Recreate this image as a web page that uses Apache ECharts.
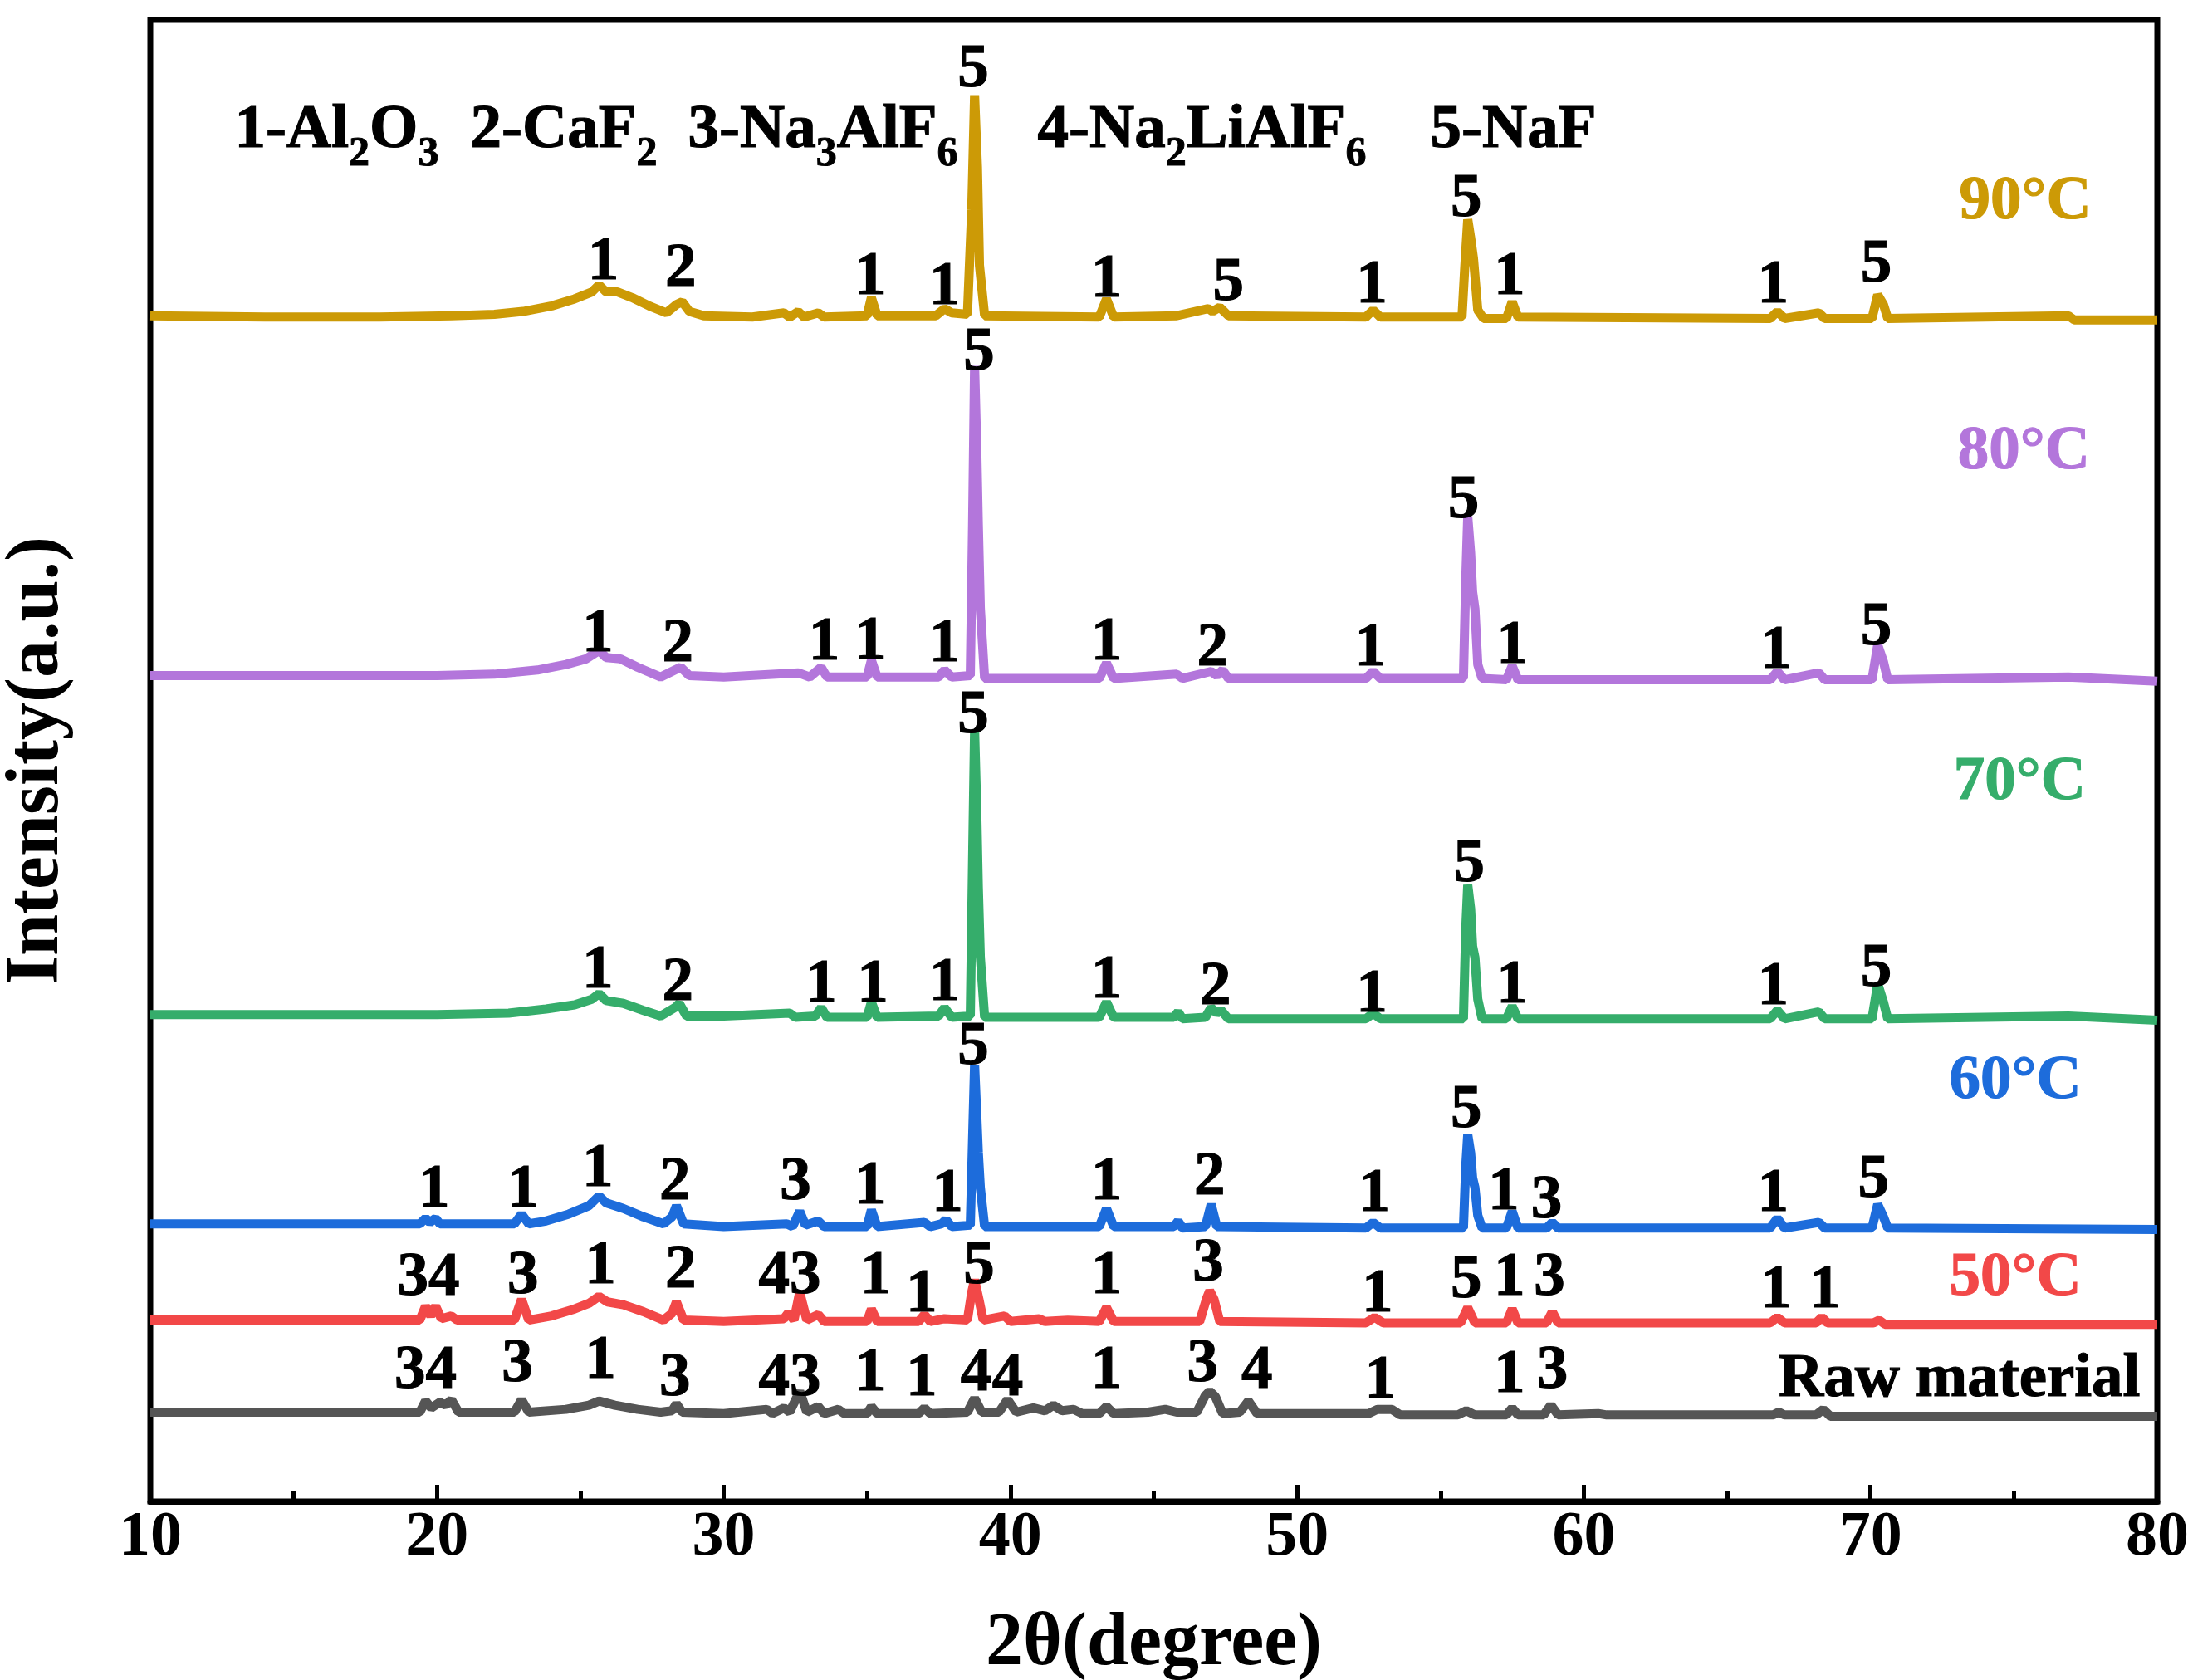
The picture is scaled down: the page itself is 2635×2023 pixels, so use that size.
<!DOCTYPE html>
<html>
<head>
<meta charset="utf-8">
<script src="https://cdn.jsdelivr.net/npm/echarts@6/dist/echarts.min.js"></script>
<style>
html, body {margin: 0; padding: 0; background: #fff;}
#main {width: 2635px; height: 2023px;}
</style>
</head>
<body>
<div id="main"></div>
<script>
// XRD patterns, stacked (offset intensity, arbitrary units)
const raw = [[10,64],[19.4,64],[19.6,72],[19.8,67],[20.1,71],[20.3,69],[20.5,73],[20.75,64],[22.7,64],[22.95,73],[23.2,64],
  [24.5,66],[25.3,69],[25.65,72],[26.2,69],[27,66],[27.8,64],[28.2,65],[28.35,70],[28.55,64],[30,63],
  [31.5,66],[31.7,63],[32.1,67],[32.3,64],[32.65,79],[32.9,64],[33.3,68],[33.5,63],[34,66],[34.2,63],
  [35,63],[35.15,68],[35.35,63],[36.8,63],[37,67],[37.2,63],[38.5,64],[38.75,74],[39,64],[39.6,64],[39.9,73],[40.2,64],
  [40.8,67],[41.2,65],[41.5,69],[41.8,65],[42.2,66],[42.5,63],[43.1,63],[43.35,68],[43.6,63],[44.8,64],[45.4,66],[45.8,64],
  [46.5,64],[46.8,76],[46.95,79],[47.15,75],[47.4,63],[48,64],[48.3,72],[48.6,63],[52.5,63],[52.8,66],[53.3,66],[53.6,62],
  [55.6,62],[55.9,65],[56.2,62],[57.3,62],[57.5,67],[57.7,62],[58.6,62],[58.85,69],[59.1,62],[60.5,63],[60.8,62],
  [66.6,62],[66.8,64],[67,62],[68.1,62],[68.35,66],[68.6,61],[80,61]];

const t50 = [[10,130],[19.4,130],[19.6,140],[19.78,133],[19.95,140],[20.15,131],[20.5,133],[20.7,130],[22.7,130],[22.95,145],[23.2,130],
  [24,133],[24.8,138],[25.3,142],[25.65,147],[25.95,143],[26.5,141],[27.2,136],[27.9,130],[28.2,135],[28.35,143],[28.6,130],[30,129],
  [32.1,131],[32.25,135],[32.45,130],[32.65,150],[32.9,130],[33.3,134],[33.5,129],[35,129],[35.15,138],[35.35,129],
  [36.8,129],[37,134],[37.2,129],[37.7,131],[38.5,130],[38.65,150],[38.75,159],[38.9,145],[39.05,130],
  [39.8,133],[40,129],[41,131],[41.2,129],[42,130],[43.1,129],[43.35,139],[43.6,129],[44,129],
  [46.6,129],[46.85,146],[46.95,151],[47.1,145],[47.3,129],[52.4,128],[52.7,132],[53,128],
  [55.7,128],[55.95,139],[56.2,128],[57.3,128],[57.5,138],[57.7,128],[58.7,128],[58.9,136],[59.1,128],
  [66.5,128],[66.75,132],[67,128],[68.1,128],[68.3,132],[68.5,128],[70.1,128],[70.3,130],[70.5,127],[80,127]];

const t60 = [[10,199],[19.4,199],[19.6,203],[19.75,200],[19.95,203],[20.1,199],[22.7,199],[22.95,206],[23.2,199],
  [23.8,201],[24.6,206],[25.3,212],[25.65,219],[25.9,214],[26.5,210],[27.2,204],[27.9,199],[28.2,204],[28.35,212],[28.6,199],[30,197],
  [32.2,199],[32.4,197],[32.65,208],[32.85,198],[33.3,201],[33.5,197],[35,197],[35.15,209],[35.35,197],
  [37,200],[37.2,197],[37.6,199],[37.75,202],[37.95,197],[38.6,198],[38.68,260],[38.75,313],[38.82,280],[38.88,250],[38.95,225],[39.1,197],
  [43.1,197],[43.35,210],[43.6,197],[45.7,197],[45.85,201],[46,196],[46.8,197],[47,213],[47.2,197],
  [52.4,196],[52.65,200],[52.9,196],[55.8,196],[55.88,240],[55.95,263],[56.05,250],[56.12,232],[56.2,225],[56.3,205],[56.45,196],
  [57.3,196],[57.5,208],[57.7,196],[58.7,196],[58.9,200],[59.1,196],[66.5,196],[66.75,203],[67,196],[68.2,200],[68.4,196],
  [70.05,196],[70.25,213],[70.45,204],[70.6,196],[80,195]];

const t70 = [[10,349],[20,349],[22.5,350],[23.8,353],[24.8,356],[25.4,360],[25.65,364],[25.9,359],[26.5,357],[27.2,352],[27.8,348],
  [28.3,354],[28.45,357],[28.7,348],[30,348],[32.3,350],[32.5,347],[33.2,348],[33.4,354],[33.6,347],[35,347],[35.15,358],[35.35,347],
  [37.5,348],[37.7,354],[37.95,347],[38.6,348],[38.68,460],[38.75,553],[38.82,500],[38.88,440],[38.95,390],[39.1,347],
  [43.1,347],[43.35,358],[43.6,347],[45.7,347],[45.85,351],[46,346],[46.8,347],[47,354],[47.2,350],[47.35,352],[47.6,346],
  [52.4,346],[52.65,350],[52.9,346],[55.8,346],[55.88,410],[55.95,442],[56.05,425],[56.12,398],[56.2,390],[56.3,360],[56.45,346],
  [57.3,346],[57.5,355],[57.7,346],[66.5,346],[66.75,352],[67,346],[68.2,351],[68.4,346],
  [70.05,346],[70.25,371],[70.45,358],[70.6,346],[76.9,348],[80,345]];

const t80 = [[10,592],[20,592],[22,593],[23.5,596],[24.5,600],[25.2,604],[25.65,610],[25.9,605],[26.4,604],[27,598],[27.8,591],
  [28.3,596],[28.5,598],[28.8,592],[30,591],[32.6,594],[33,591],[33.4,598],[33.6,591],[35,591],[35.15,603],[35.35,591],
  [37.5,591],[37.7,596],[37.95,591],[38.6,592],[38.68,700],[38.75,814],[38.82,760],[38.88,700],[38.95,640],[39.1,590],
  [43.1,590],[43.35,601],[43.6,590],[45.8,593],[46,590],[47,595],[47.2,592],[47.4,596],[47.6,590],[52.4,590],[52.65,595],[52.9,590],
  [55.8,590],[55.88,660],[55.95,706],[56.05,680],[56.12,652],[56.2,640],[56.3,600],[56.45,590],
  [57.3,589],[57.5,599],[57.7,589],[66.5,589],[66.75,595],[67,589],[68.2,594],[68.4,589],
  [70.05,589],[70.25,614],[70.45,602],[70.6,589],[76.9,591],[80,588]];

const t90 = [[10,850],[14,849],[18,849],[20.5,850],[22,851],[23,853],[24,857],[24.8,862],[25.4,867],[25.65,872],[25.9,867],[26.3,867],
  [26.8,863],[27.4,857],[28,852],[28.35,858],[28.55,860],[28.8,853],[29.3,850],[31,849],[32.1,852],[32.3,849],[32.6,853],[32.8,849],
  [33.3,852],[33.5,849],[35,850],[35.15,863],[35.35,850],[37.4,850],[37.7,855],[37.95,852],[38.5,851],
  [38.65,926],[38.75,1008],[38.85,956],[38.92,886],[39.1,850],[43.1,849],[43.35,862],[43.6,849],[45.8,850],
  [46.9,855],[47.05,853],[47.3,856],[47.6,850],[52.4,849],[52.65,854],[52.9,849],
  [55.75,849],[55.85,886],[55.95,919],[56.05,906],[56.15,891],[56.3,854],[56.5,848],[57.3,848],[57.5,860],[57.7,849],
  [66.5,848],[66.75,853],[67,848],[68.2,852],[68.4,848],[70.05,848],[70.25,865],[70.45,858],[70.6,848],[76.9,850],[77.1,847],[80,847]];

// peak assignments: [2θ, intensity, phase number]
const peaksRaw = [[19.6,96,'34'],[22.8,101,'3'],[25.7,103,'1'],[28.3,91,'3'],[32.3,91,'43'],[35.1,94,'1'],[36.9,91,'1'],
  [38.8,94,'4'],[39.9,91,'4'],[43.35,96,'1'],[46.7,101,'3'],[48.6,96,'4'],[52.9,89,'1'],[57.4,93,'1'],[58.9,96,'3']];
const peaks50 = [[19.7,163,'34'],[23.0,164,'3'],[25.7,171,'1'],[28.5,168,'2'],[32.3,164,'43'],[35.3,164,'1'],[36.9,151,'1'],
  [38.9,171,'5'],[43.35,164,'1'],[46.9,173,'3'],[52.8,151,'1'],[55.9,161,'5'],[57.4,163,'1'],[58.8,163,'3'],[66.7,154,'1'],[68.4,154,'1']];
const peaks60 = [[19.9,226,'1'],[23.0,226,'1'],[25.6,241,'1'],[28.3,231,'2'],[32.5,231,'3'],[35.1,228,'1'],[37.8,223,'1'],
  [38.7,328,'5'],[43.35,231,'1'],[46.95,235,'2'],[52.7,223,'1'],[55.9,283,'5'],[57.2,224,'1'],[58.7,218,'3'],[66.6,223,'1'],[70.1,233,'5']];
const peaks70 = [[25.6,383,'1'],[28.4,374,'2'],[33.4,373,'1'],[35.2,373,'1'],[37.7,374,'1'],[38.7,566,'5'],[43.35,376,'1'],
  [47.15,371,'2'],[52.6,366,'1'],[56.0,459,'5'],[57.5,372,'1'],[66.6,371,'1'],[70.2,384,'5']];
const peaks80 = [[25.6,624,'1'],[28.4,617,'2'],[33.5,618,'1'],[35.1,619,'1'],[37.7,617,'1'],[38.9,826,'5'],[43.35,618,'1'],
  [47.05,614,'2'],[52.55,614,'1'],[55.8,720,'5'],[57.5,616,'1'],[66.7,612,'1'],[70.2,629,'5']];
const peaks90 = [[25.8,891,'1'],[28.5,886,'2'],[35.1,880,'1'],[37.7,873,'1'],[38.7,1029,'5'],[43.35,878,'1'],[47.6,876,'5'],
  [52.6,874,'1'],[55.9,936,'5'],[57.4,880,'1'],[66.6,874,'1'],[70.2,889,'5']];

const sampleNames = ['Raw material', '50°C', '60°C', '70°C', '80°C', '90°C'];
const sampleColors = ['#555555', '#F24848', '#1D6CDB', '#35AD6B', '#B376DB', '#CC9A06'];
const sampleData = [raw, t50, t60, t70, t80, t90];
const samplePeaks = [peaksRaw, peaks50, peaks60, peaks70, peaks80, peaks90];
// where each sample name is written [2θ, intensity]
const nameAnchors = [[73.1,87],[75.05,160],[75.05,301],[75.2,515],[75.35,752],[75.4,931]];

const legendParts = ['1-Al{s|2}O{s|3}', '2-CaF{s|2}', '3-Na{s|3}AlF{s|6}', '4-Na{s|2}LiAlF{s|6}', '5-NaF'];
const legendLeft = [282, 566, 828, 1249, 1722];

const FONT = '"Liberation Serif", "Times New Roman", serif';

const myChart = echarts.init(document.getElementById('main'));

const series = [];
sampleData.forEach(function (d, i) {
    series.push({
        type: 'line',
        name: sampleNames[i],
        data: d,
        symbol: 'none',
        silent: true,
        z: 2,
        lineStyle: {width: 11, color: sampleColors[i]},
        itemStyle: {color: sampleColors[i]}
    });
});

let peakItems = [];
samplePeaks.forEach(function (arr) {
    arr.forEach(function (p) {
        peakItems.push({value: [p[0], p[1]], name: p[2]});
    });
});
series.push({
    type: 'scatter',
    data: peakItems,
    symbolSize: 0,
    itemStyle: {color: '#000', opacity: 1},
    silent: true,
    z: 5,
    label: {
        show: true, position: 'inside', formatter: '{b}', opacity: 1, offset: [0, 5],
        color: '#000', textBorderColor: '#000', textBorderWidth: 1.2,
        fontFamily: FONT, fontWeight: 'bold', fontSize: 75
    }
});

series.push({
    type: 'scatter',
    data: nameAnchors.map(function (a, i) {
        const c = i === 0 ? '#000' : sampleColors[i];
        return {value: a, name: sampleNames[i], itemStyle: {color: c},
            label: {color: c, textBorderColor: c}};
    }),
    symbolSize: 0,
    silent: true,
    z: 5,
    label: {
        show: true, position: 'inside', formatter: '{b}', opacity: 1, textBorderWidth: 1.2,
        fontFamily: FONT, fontWeight: 'bold', fontSize: 75
    }
});

const option = {
    backgroundColor: '#fff',
    animation: false,
    grid: {left: 181, right: 37, top: 24, bottom: 215, outerBoundsMode: 'none',
        show: true, borderColor: '#000', borderWidth: 7},
    xAxis: {
        type: 'value', min: 10, max: 80, interval: 10,
        name: '2θ(degree)', nameLocation: 'middle', nameGap: 128,
        nameTextStyle: {fontFamily: FONT, fontWeight: 'bold', fontSize: 90, color: '#000'},
        axisLine: {show: true, lineStyle: {color: '#000', width: 7}},
        axisTick: {show: true, inside: true, length: 20, lineStyle: {color: '#000', width: 5}},
        minorTick: {show: true, splitNumber: 2, length: 12, lineStyle: {color: '#000', width: 5}},
        axisLabel: {margin: 6, fontFamily: FONT, fontWeight: 'bold', fontSize: 76, color: '#000'},
        splitLine: {show: false}
    },
    yAxis: {
        type: 'value', min: 0, max: 1062,
        name: 'Intensity(a.u.)', nameLocation: 'middle', nameGap: 90, nameRotate: 90,
        nameTextStyle: {fontFamily: FONT, fontWeight: 'bold', fontSize: 90, color: '#000'},
        axisLine: {show: false}, axisTick: {show: false}, axisLabel: {show: false}, splitLine: {show: false}
    },
    graphic: legendParts.map(function (t, i) {
        return {
            type: 'text', left: legendLeft[i], top: 120, z: 10,
            style: {
                text: t.replace(/(^|\})([^{}]+)(?=\{|$)/g, '$1{m|$2}'),
                fill: '#000',
                rich: {
                    m: {fontFamily: FONT, fontWeight: 'bold', fontSize: 75, lineHeight: 80, verticalAlign: 'top',
                        fill: '#000', stroke: '#000', lineWidth: 1.2},
                    s: {fontFamily: FONT, fontWeight: 'bold', fontSize: 50, lineHeight: 50, padding: [40, 0, 0, 0], verticalAlign: 'top',
                        fill: '#000', stroke: '#000', lineWidth: 1}
                }
            }
        };
    }),
    series: series
};

myChart.setOption(option);
</script>
</body>
</html>
